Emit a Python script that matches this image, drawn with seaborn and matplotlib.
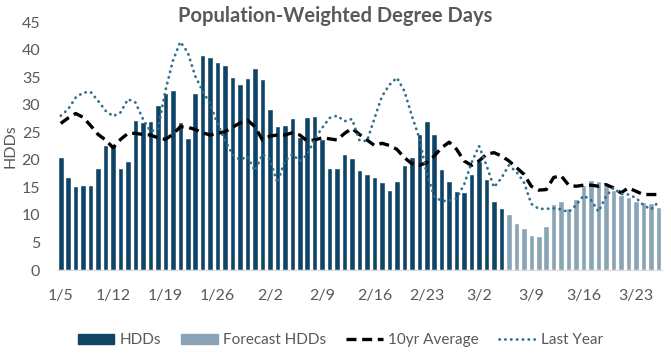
import numpy as np
import pandas as pd
import matplotlib
matplotlib.use("Agg")
import matplotlib.pyplot as plt
from matplotlib.patches import Patch
from matplotlib.lines import Line2D
import seaborn as sns

# daily values, 1/5 .. 3/26
hdds = [20.5, 16.8, 15.2, 15.4, 15.4, 18.5, 22.6, 22.6, 18.6, 19.7,
        27.2, 26.8, 27.0, 29.9, 32.1, 32.6, 26.8, 23.9, 32.1, 39.0,
        38.6, 37.7, 37.2, 35.0, 33.7, 34.8, 36.6, 34.6, 29.2, 26.1,
        26.3, 27.5, 24.1, 27.7, 27.9, 23.7, 18.6, 18.5, 21.0, 20.4,
        18.1, 17.4, 16.8, 15.9, 14.5, 16.2, 19.0, 20.5, 24.6, 27.0,
        24.6, 18.3, 16.1, 14.3, 14.1, 17.5, 19.7, 16.6, 12.6, 11.2]
forecast = [10.1, 8.5, 7.7, 6.3, 6.1, 7.9, 11.9, 12.5, 11.2, 12.8,
            15.4, 16.3, 16.1, 15.2, 14.5, 13.7, 13.2, 12.5, 12.3, 12.1, 11.5]
avg_10yr = [26.6, 27.6, 28.4, 27.7, 26.2, 24.6, 23.6, 22.2, 23.7, 24.8,
            24.8, 24.6, 24.5, 24.0, 23.7, 24.6, 26.0, 25.9, 25.5, 24.9,
            24.5, 24.8, 25.1, 25.9, 26.7, 27.2, 26.0, 23.6, 24.3, 24.5,
            24.5, 24.9, 24.5, 23.4, 23.6, 24.0, 23.8, 23.6, 24.8, 25.7,
            24.6, 23.6, 22.6, 23.0, 22.6, 21.9, 20.4, 19.3, 19.0, 19.5,
            20.7, 22.2, 23.2, 21.9, 19.8, 19.0, 19.8, 21.0, 21.3, 20.7,
            19.8, 18.6, 17.4, 15.2, 14.5, 14.6, 16.8, 17.1, 15.4, 15.2,
            15.4, 15.4, 15.2, 15.5, 14.9, 14.0, 14.9, 14.3, 13.7, 13.7, 13.7]
last_year = [28.0, 29.2, 31.3, 32.2, 32.3, 30.7, 28.9, 27.9, 28.6, 31.0,
             30.4, 27.4, 25.2, 25.5, 32.5, 37.9, 41.4, 39.5, 35.2, 32.5,
             30.1, 26.5, 23.5, 21.0, 20.0, 20.6, 18.0, 21.0, 20.1, 15.8,
             19.8, 21.0, 19.8, 20.9, 23.8, 25.8, 27.6, 28.0, 27.0, 27.4,
             23.5, 23.4, 27.5, 31.5, 33.6, 34.9, 32.5, 28.0, 24.0, 17.5,
             13.4, 12.5, 12.6, 13.0, 15.5, 19.5, 22.5, 19.0, 15.0, 16.7,
             19.0, 17.8, 16.0, 12.0, 11.1, 11.1, 11.2, 11.0, 10.5, 11.8,
             13.5, 12.7, 10.6, 13.4, 14.9, 13.8, 13.7, 13.1, 11.8, 11.0, 12.3]
tick_labels = ['1/5', '1/12', '1/19', '1/26', '2/2', '2/9', '2/16',
               '2/23', '3/2', '3/9', '3/16', '3/23']

DARK = '#0f4466'
LIGHT = '#8aa3b5'
DOTS = '#2f6f8f'
GREY = '#595959'

n = len(hdds) + len(forecast)
days = np.arange(n)
df = pd.DataFrame({
    'day': days,
    'value': hdds + forecast,
    'kind': ['HDDs'] * len(hdds) + ['Forecast HDDs'] * len(forecast),
})

sns.set_style('white')
plt.rcParams['font.family'] = ['Lato', 'DejaVu Sans']

fig = plt.figure(figsize=(6.71, 3.61), dpi=100)
ax = fig.add_axes([0.085, 0.252, 0.9016, 0.687])

sns.barplot(data=df, x='day', y='value', hue='kind', dodge=False,
            palette={'HDDs': DARK, 'Forecast HDDs': LIGHT},
            width=0.74, saturation=1, legend=False, ax=ax)
sns.lineplot(x=days, y=avg_10yr, color='black', lw=2.4,
             linestyle=(0, (3, 1.7)), ax=ax)
sns.lineplot(x=days, y=last_year, color=DOTS, lw=2.0,
             linestyle=(0, (0.1, 2.0)), dash_capstyle='round', ax=ax)

ax.set_xlim(-0.5, n - 0.5)
ax.set_ylim(0, 45)
ax.set_yticks(range(0, 46, 5))
ax.set_xticks(range(0, n, 7))
ax.set_xticklabels(tick_labels)
ax.tick_params(axis='both', length=0, labelsize=11.5, labelcolor=GREY)
ax.tick_params(axis='x', pad=14)
ax.tick_params(axis='y', pad=12)
ax.set_xlabel('')
ax.set_ylabel('HDDs', fontsize=11.5, color=GREY, labelpad=3)
for s in ['top', 'right', 'left']:
    ax.spines[s].set_visible(False)
ax.spines['bottom'].set_color('#d9d9d9')

fig.text(0.5, 0.955, 'Population-Weighted Degree Days', ha='center',
         va='center', fontsize=14.5, fontweight='bold', color=GREY)

handles = [Patch(color=DARK, label='HDDs'),
           Patch(color=LIGHT, label='Forecast HDDs'),
           Line2D([], [], color='black', lw=2.4, linestyle=(0, (3, 1.7)),
                  label='10yr Average'),
           Line2D([], [], color=DOTS, lw=2.0, linestyle=(0, (0.1, 2.0)),
                  dash_capstyle='round', label='Last Year')]
fig.legend(handles=handles, loc='lower center', bbox_to_anchor=(0.507, 0.0),
           ncol=4, frameon=False, fontsize=11, labelcolor=GREY,
           handlelength=2.4, handleheight=0.7, columnspacing=1.3,
           handletextpad=0.35)

fig.savefig('out.png', dpi=100)
